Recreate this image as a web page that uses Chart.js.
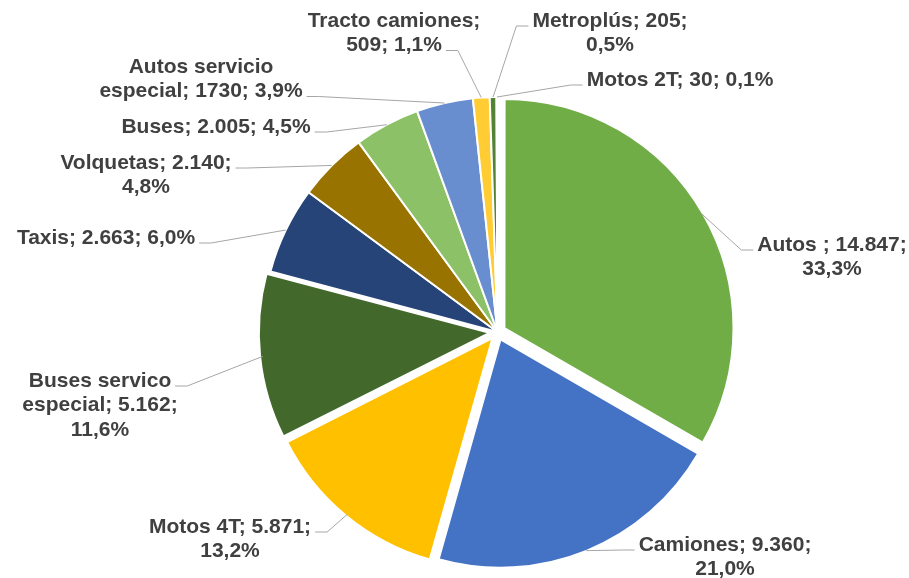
<!DOCTYPE html>
<html>
<head>
<meta charset="utf-8">
<script src="https://cdn.jsdelivr.net/npm/chart.js@4"></script>
<style>
  body { margin: 0; background: #fff; }
  #wrap { width: 909px; height: 578px; position: relative; }
</style>
</head>
<body>
<div id="wrap"><canvas id="pieChart"></canvas></div>
<script>
// Vehicle counts
const categories = [
  "Autos ", "Camiones", "Motos 4T", "Buses servico especial", "Taxis",
  "Volquetas", "Buses", "Autos servicio especial", "Tracto camiones",
  "Metroplús", "Motos 2T"
]
const counts = [14847, 9360, 5871, 5162, 2663, 2140, 2005, 1730, 509, 205, 30]
// 1730 is shown without a thousands separator in the source
const ungrouped = ["Autos servicio especial"]

const sliceColors = [
  "#70AD47", "#4472C4", "#FFC000", "#43682B", "#264478",
  "#997300", "#8CC168", "#698ED0", "#FFCD33", "#548235", "#5B9BD5"
]
// chart.js moves an arc by offset/4, so 32 gives ~8px of explosion
const sliceOffsets = [32, 32, 32, 32, 0, 0, 0, 0, 0, 0, 0]
// exploded slices are drawn a bit smaller than the rest (as in the source)
const explodedShrink = 7

// label placement: centre x, first line y, side where the leader attaches, line it attaches to, wrap width
const labelLayout = [
  { cx: 832, cy: 245, side: "left", line: 0, maxW: 155 },
  { cx: 725, cy: 545, side: "left", line: 0, maxW: 185 },
  { cx: 230, cy: 527, side: "right", line: 0, maxW: 172 },
  { cx: 100, cy: 381, side: "right", line: 0, maxW: 162 },
  { cx: 106, cy: 238, side: "right", line: 0, maxW: 210 },
  { cx: 146, cy: 163, side: "right", line: 0, maxW: 182 },
  { cx: 216, cy: 127, side: "right", line: 0, maxW: 210 },
  { cx: 201, cy: 67, side: "right", line: 1, maxW: 218 },
  { cx: 394, cy: 21, side: "right", line: 1, maxW: 178 },
  { cx: 610, cy: 21, side: "left", line: 0, maxW: 168 },
  { cx: 680, cy: 80, side: "left", line: 0, maxW: 210 }
]

const total = counts.reduce((a, b) => a + b, 0)

function fmtCount(v, name) {
  if (ungrouped.includes(name)) return String(v)
  return String(v).replace(/\B(?=(\d{3})+(?!\d))/g, ".")
}

function fmtPct(v) {
  return (v / total * 100).toFixed(1).replace(".", ",") + "%"
}

function wrapText(ctx, text, maxW) {
  const words = text.split(" ")
  const lines = []
  let cur = ""
  words.forEach(w => {
    const test = cur ? cur + " " + w : w
    if (cur && ctx.measureText(test).width > maxW) {
      lines.push(cur)
      cur = w
    } else {
      cur = test
    }
  })
  if (cur) lines.push(cur)
  return lines
}

// shrink the exploded arcs after layout
const shrinkPlugin = {
  id: "shrinkExploded",
  afterDatasetUpdate(chart, args) {
    const meta = chart.getDatasetMeta(args.index)
    meta.data.forEach((arc, i) => {
      if (sliceOffsets[i] > 0) arc.outerRadius = arc.outerRadius - explodedShrink
    })
  }
}

const labelPlugin = {
  id: "sliceLabels",
  afterDraw(chart) {
    const ctx = chart.ctx
    const meta = chart.getDatasetMeta(0)
    const lineH = 24.5
    ctx.save()
    ctx.font = 'bold 21px "Liberation Sans", Arial, sans-serif'
    ctx.textAlign = "center"
    ctx.textBaseline = "middle"
    meta.data.forEach((arc, i) => {
      const p = arc.getProps(["x", "y", "startAngle", "endAngle", "outerRadius"], true)
      const mid = (p.startAngle + p.endAngle) / 2
      const r = p.outerRadius + arc.options.offset / 4
      const ax = p.x + Math.cos(mid) * r
      const ay = p.y + Math.sin(mid) * r
      const lay = labelLayout[i]
      const text = categories[i] + "; " + fmtCount(counts[i], categories[i]) + "; " + fmtPct(counts[i])
      const lines = wrapText(ctx, text, lay.maxW)

      // leader line
      const w = ctx.measureText(lines[lay.line]).width
      const ly = lay.cy + lay.line * lineH + 5
      let tx, ex
      if (lay.side === "left") {
        tx = lay.cx - w / 2 - 4
        ex = tx - 12
      } else {
        tx = lay.cx + w / 2 + 4
        ex = tx + 12
      }
      ctx.strokeStyle = "#A6A6A6"
      ctx.lineWidth = 1
      ctx.beginPath()
      ctx.moveTo(ax, ay)
      ctx.lineTo(ex, ly)
      ctx.lineTo(tx, ly)
      ctx.stroke()

      ctx.fillStyle = "#404040"
      lines.forEach((ln, k) => {
        ctx.fillText(ln, lay.cx, lay.cy + k * lineH)
      })
    })
    ctx.restore()
  }
}

const ctx = document.getElementById("pieChart").getContext("2d")
new Chart(ctx, {
  type: "pie",
  data: {
    labels: categories,
    datasets: [
      {
        data: counts,
        backgroundColor: sliceColors,
        borderColor: "#FFFFFF",
        borderWidth: 2,
        offset: sliceOffsets
      }
    ]
  },
  options: {
    responsive: true,
    maintainAspectRatio: false,
    animation: false,
    events: [],
    radius: 235,
    layout: { padding: { left: 86, top: 86, right: 0, bottom: 0 } },
    plugins: {
      legend: { display: false },
      tooltip: { enabled: false }
    }
  },
  plugins: [shrinkPlugin, labelPlugin]
})
</script>
</body>
</html>
